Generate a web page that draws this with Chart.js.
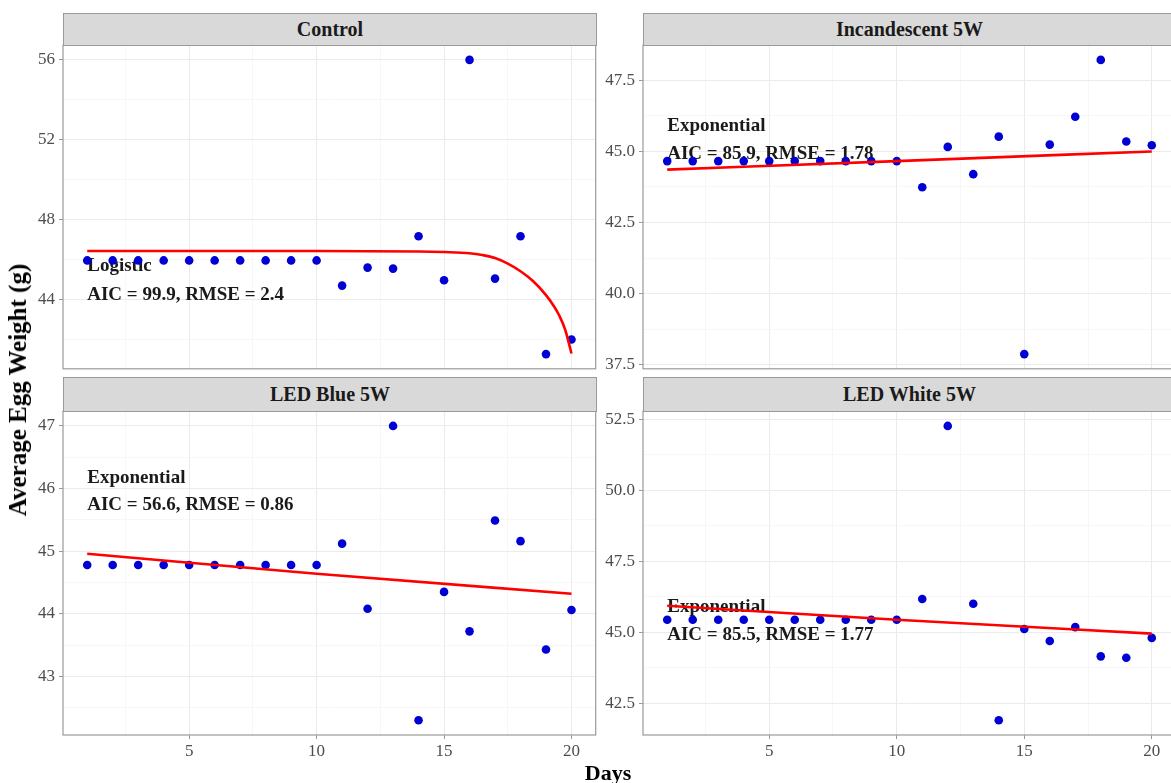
<!DOCTYPE html>
<html lang="en">
<head>
  <meta charset="UTF-8" />
  <title>Average Egg Weight by Light Treatment</title>
  <style>
    body {
      margin: 0;
      background: #fff;
      font-family: "Liberation Serif", "Times New Roman", serif;
    }
    #wrap {
      position: relative;
      width: 1171px;
      height: 783px;
      overflow: hidden;
    }
    canvas {
      position: absolute;
    }
    .strip {
      position: absolute;
      box-sizing: border-box;
      background: #d9d9d9;
      border: 1px solid #9a9a9a;
      color: #1a1a1a;
      font-weight: bold;
      font-size: 20px;
      display: flex;
      align-items: center;
      justify-content: center;
    }
    .axis-title {
      position: absolute;
      font-weight: bold;
      color: #000;
      white-space: nowrap;
    }
  </style>
  <script src="https://cdn.jsdelivr.net/npm/chart.js"></script>
</head>
<body>
  <div id="wrap">
    <canvas id="cControl" width="600" height="352" style="left:0;top:31px"></canvas>
    <canvas id="cIncand" width="600" height="352" style="left:590px;top:31px"></canvas>
    <canvas id="cBlue" width="600" height="370" style="left:0;top:397px"></canvas>
    <canvas id="cWhite" width="600" height="370" style="left:590px;top:397px"></canvas>

    <div class="strip" style="left:63px;top:13px;width:534px;height:33px">Control</div>
    <div class="strip" style="left:643px;top:13px;width:533px;height:33px">Incandescent 5W</div>
    <div class="strip" style="left:63px;top:377px;width:534px;height:35px">LED Blue 5W</div>
    <div class="strip" style="left:643px;top:377px;width:533px;height:35px">LED White 5W</div>

    <div class="axis-title" style="left:608px;top:773px;font-size:22px;transform:translate(-50%,-50%)">Days</div>
    <div class="axis-title" style="left:18px;top:390px;font-size:25px;transform:translate(-50%,-50%) rotate(-90deg)">Average Egg Weight (g)</div>
  </div>

  <script>
    // ---- data ----
    const days = [1, 2, 3, 4, 5, 6, 7, 8, 9, 10, 11, 12, 13, 14, 15, 16, 17, 18, 19, 20];
    const dayTicks = [5, 10, 15, 20];

    const controlWeight = [45.96, 45.96, 45.96, 45.96, 45.96, 45.96, 45.96, 45.96, 45.96, 45.96,
                           44.70, 45.60, 45.55, 47.17, 44.97, 56.00, 45.05, 47.17, 41.27, 42.00];
    const incandWeight  = [44.66, 44.66, 44.66, 44.66, 44.66, 44.66, 44.66, 44.66, 44.66, 44.66,
                           43.74, 45.16, 44.20, 45.52, 37.87, 45.24, 46.22, 48.22, 45.35, 45.22];
    const blueWeight    = [44.78, 44.78, 44.78, 44.78, 44.78, 44.78, 44.78, 44.78, 44.78, 44.78,
                           45.12, 44.08, 47.00, 42.30, 44.35, 43.72, 45.49, 45.16, 43.43, 44.06];
    const whiteWeight   = [45.44, 45.44, 45.44, 45.44, 45.44, 45.44, 45.44, 45.44, 45.44, 45.44,
                           46.17, 52.26, 46.00, 41.90, 45.11, 44.69, 45.18, 44.15, 44.10, 44.80];

    // fitted curves
    const controlFitDays = [1, 5, 10, 14, 15, 16, 16.5, 17, 17.5, 18, 18.5, 19, 19.33, 19.5, 19.75, 20];
    const controlFit     = [46.43, 46.43, 46.43, 46.41, 46.38, 46.32, 46.23, 46.08, 45.80, 45.42,
                            44.92, 44.22, 43.63, 43.25, 42.50, 41.30];
    const expFitDays = [1, 10, 20];
    const incandFit  = [44.36, 44.66, 45.00];
    const blueFit    = [44.96, 44.64, 44.32];
    const whiteFit   = [45.93, 45.44, 44.95];

    const controlTicks = [44, 48, 52, 56];
    const incandTicks  = [37.5, 40, 42.5, 45, 47.5];
    const blueTicks    = [43, 44, 45, 46, 47];
    const whiteTicks   = [42.5, 45, 47.5, 50, 52.5];

    const controlNote = ['Logistic', 'AIC = 99.9, RMSE = 2.4'];
    const incandNote  = ['Exponential', 'AIC = 85.9, RMSE = 1.78'];
    const blueNote    = ['Exponential', 'AIC = 56.6, RMSE = 0.86'];
    const whiteNote   = ['Exponential', 'AIC = 85.5, RMSE = 1.77'];

    // ---- helpers ----
    const FONT = '"Liberation Serif", "Times New Roman", serif';
    const isIn = (v, arr) => arr.some(m => Math.abs(m - v) < 1e-6);

    // ggplot-like range with 5% expansion
    function expand(vals) {
      const lo = Math.min(...vals), hi = Math.max(...vals);
      const pad = (hi - lo) * 0.05;
      return [lo - pad, hi + pad];
    }

    // majors plus the minor lines half-way between them
    function withMinor(majors, lo, hi) {
      const step = majors[1] - majors[0];
      const out = [];
      for (let v = majors[0] - step / 2; v <= majors[majors.length - 1] + step / 2 + 1e-9; v += step / 2) {
        if (v >= lo && v <= hi) out.push(+v.toFixed(4));
      }
      return out;
    }

    const panelPlugin = {
      id: 'panel',
      beforeDatasetsDraw(chart, args, opts) {
        const { ctx, scales } = chart;
        const notes = opts.notes || [];
        ctx.save();
        ctx.font = 'bold 19px ' + FONT;
        ctx.fillStyle = '#1a1a1a';
        ctx.textAlign = 'left';
        ctx.textBaseline = 'middle';
        notes.forEach(n => {
          ctx.fillText(n.text, scales.x.getPixelForValue(n.x), scales.y.getPixelForValue(n.y));
        });
        ctx.restore();
      },
      afterDraw(chart) {
        const a = chart.chartArea;
        const ctx = chart.ctx;
        ctx.save();
        ctx.strokeStyle = '#9a9a9a';
        ctx.lineWidth = 1.2;
        ctx.strokeRect(a.left, a.top, a.right - a.left, a.bottom - a.top);
        ctx.restore();
      }
    };

    function makePanel(id, weights, fitDays, fitVals, ticks, digits, note, noteY, opt) {
      const xr = expand(days);
      const yr = expand(weights.concat(fitVals));
      const xAll = withMinor(dayTicks, xr[0], xr[1]);
      const yAll = withMinor(ticks, yr[0], yr[1]);

      new Chart(document.getElementById(id), {
        type: 'scatter',
        data: {
          datasets: [
            {
              data: fitDays.map((d, i) => ({ x: d, y: fitVals[i] })),
              showLine: true,
              borderColor: '#ff0000',
              borderWidth: 2.6,
              pointRadius: 0,
              cubicInterpolationMode: 'monotone',
              order: 0
            },
            {
              data: days.map((d, i) => ({ x: d, y: weights[i] })),
              backgroundColor: '#0000d4',
              borderWidth: 0,
              pointRadius: 4.3,
              order: 1
            }
          ]
        },
        plugins: [panelPlugin],
        options: {
          responsive: false,
          animation: false,
          layout: { padding: { left: 0, right: opt.padRight, top: 14, bottom: opt.showX ? 0 : 14 } },
          plugins: {
            legend: { display: false },
            tooltip: { enabled: false },
            panel: {
              notes: [
                { text: note[0], x: 1, y: noteY[0] },
                { text: note[1], x: 1, y: noteY[1] }
              ]
            }
          },
          scales: {
            x: {
              type: 'linear',
              min: xr[0],
              max: xr[1],
              border: { display: false },
              afterBuildTicks: s => { s.ticks = xAll.map(v => ({ value: v })); },
              afterFit: s => { s.height = opt.showX ? 32 : 0; },
              grid: {
                color: c => isIn(c.tick.value, dayTicks) ? '#ebebeb' : '#f4f4f4',
                lineWidth: c => isIn(c.tick.value, dayTicks) ? 1 : 0.7,
                drawTicks: opt.showX,
                tickLength: 4,
                tickColor: c => isIn(c.tick.value, dayTicks) ? '#9a9a9a' : 'rgba(0,0,0,0)'
              },
              ticks: {
                display: opt.showX,
                autoSkip: false,
                maxRotation: 0,
                padding: 2,
                color: '#4d4d4d',
                font: { family: FONT, size: 17 },
                callback: v => isIn(v, dayTicks) ? String(v) : ''
              }
            },
            y: {
              type: 'linear',
              min: yr[0],
              max: yr[1],
              border: { display: false },
              afterBuildTicks: s => { s.ticks = yAll.map(v => ({ value: v })); },
              afterFit: s => { s.width = opt.yWidth; },
              grid: {
                color: c => isIn(c.tick.value, ticks) ? '#ebebeb' : '#f4f4f4',
                lineWidth: c => isIn(c.tick.value, ticks) ? 1 : 0.7,
                tickLength: 4,
                tickColor: c => isIn(c.tick.value, ticks) ? '#9a9a9a' : 'rgba(0,0,0,0)'
              },
              ticks: {
                autoSkip: false,
                padding: 4,
                color: '#4d4d4d',
                font: { family: FONT, size: 17 },
                callback: v => isIn(v, ticks) ? v.toFixed(digits) : ''
              }
            }
          }
        }
      });
    }

    makePanel('cControl', controlWeight, controlFitDays, controlFit, controlTicks, 0,
              controlNote, [45.67, 44.2], { showX: false, yWidth: 63, padRight: 3 });
    makePanel('cIncand', incandWeight, expFitDays, incandFit, incandTicks, 1,
              incandNote, [45.89, 44.92], { showX: false, yWidth: 53, padRight: 14 });
    makePanel('cBlue', blueWeight, expFitDays, blueFit, blueTicks, 0,
              blueNote, [46.17, 45.74], { showX: true, yWidth: 63, padRight: 3 });
    makePanel('cWhite', whiteWeight, expFitDays, whiteFit, whiteTicks, 1,
              whiteNote, [45.88, 44.89], { showX: true, yWidth: 53, padRight: 14 });
  </script>
</body>
</html>
